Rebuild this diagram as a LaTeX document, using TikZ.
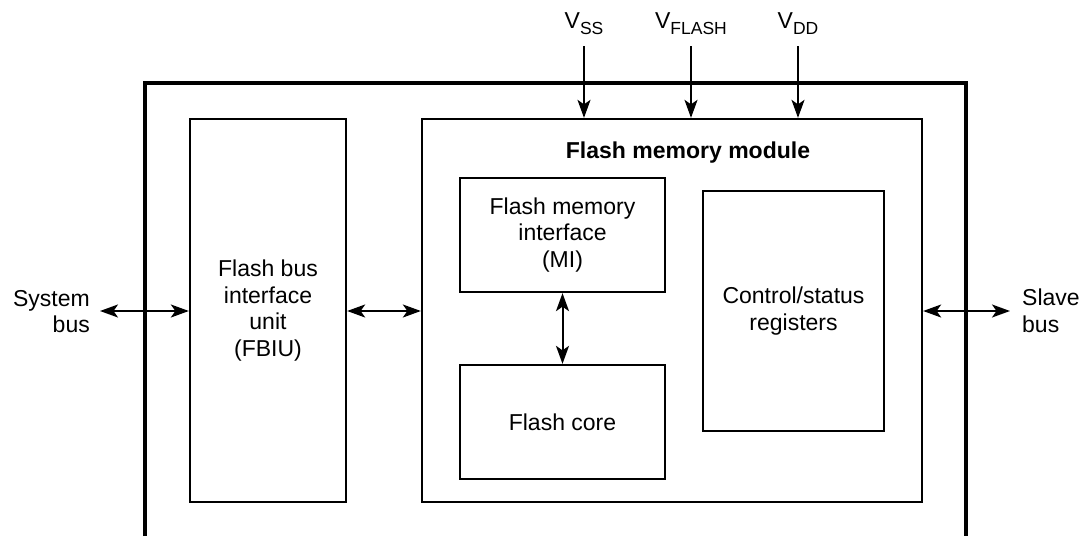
\documentclass[tikz,border=0pt]{standalone}
\usepackage{fontspec}
\setmainfont{Liberation Sans}
\usetikzlibrary{arrows.meta}
\newcommand\mainfs{\fontsize{23}{26.7}\selectfont}
\newcommand\subfs{\fontsize{17.5}{17.5}\selectfont}
\begin{document}
\begin{tikzpicture}[x=1pt,y=-1pt,
  box/.style={draw, line width=2.3pt, inner sep=0pt, align=center, font=\mainfs},
  lbl/.style={inner sep=0pt, font=\mainfs},
  biarr/.style={line width=2pt, {Stealth[length=18pt,width=13pt,inset=4.5pt]}-{Stealth[length=18pt,width=13pt,inset=4.5pt]}},
  downarr/.style={line width=2pt, -{Stealth[length=18pt,width=13pt,inset=4.5pt]}}]
\useasboundingbox (0,0) rectangle (1080,536);
% outer (open at the bottom)
\draw[line width=3.2pt] (145,536) -- (145,83) -- (966,83) -- (966,536);
% boxes
\node[box, minimum width=156pt, minimum height=383pt] (fbiu) at (268,310.5) {Flash bus\\interface\\unit\\(FBIU)};
\node[box, minimum width=500pt, minimum height=383pt] (fmm) at (672,310.5) {};
\node[lbl, anchor=base, font=\mainfs\bfseries] (title) at (688,158) {Flash memory module};
\node[box, minimum width=205pt, minimum height=114pt] (mi) at (562.5,235) {Flash memory\\interface\\(MI)};
\node[box, minimum width=205pt, minimum height=114pt] (core) at (562.5,422) {Flash core};
\node[box, minimum width=181pt, minimum height=240pt] (csr) at (793.5,311) {Control/status\\registers};
% outside labels
\node[lbl, align=right, anchor=east] (sys) at (90,311.5) {System\\bus};
\node[lbl, align=left, anchor=west] (slave) at (1022,311) {Slave\\bus};
\coordinate (sysT) at (100,311);
\coordinate (slaveT) at (1010,311);
% supply labels
\node[lbl, anchor=base] (vss) at (584,28) {V\raisebox{-6pt}{\subfs SS}};
\node[lbl, anchor=base] (vfl) at (691,28) {V\raisebox{-6pt}{\subfs FLASH}};
\node[lbl, anchor=base] (vdd) at (798,28) {V\raisebox{-6pt}{\subfs DD}};
% connectors
\draw[biarr] (sysT) -- (sysT -| fbiu.west);
\draw[biarr] (fbiu.east |- 0,311) -- (fmm.west |- 0,311);
\draw[biarr] (fmm.east |- slaveT) -- (slaveT);
\draw[biarr] (mi.south) -- (core.north);
\draw[downarr] ([yshift=-12pt]vss.south) -- (vss.south |- fmm.north);
\draw[downarr] ([yshift=-12pt]vfl.south) -- (vfl.south |- fmm.north);
\draw[downarr] ([yshift=-12pt]vdd.south) -- (vdd.south |- fmm.north);
\end{tikzpicture}
\end{document}
